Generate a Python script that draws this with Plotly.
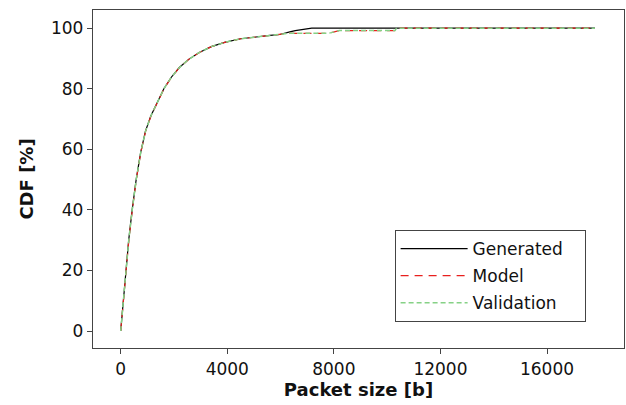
import plotly.graph_objects as go

# Packet size (bits) and cumulative share (%) for each series
gen_x = [0, 50, 100, 150, 200, 300, 430, 580, 750, 930, 1130, 1360, 1620, 1900, 2200, 2550,
         2950, 3400, 3900, 4500, 5200, 5600, 5970, 6150, 6350, 6550, 6800, 7170, 10300, 17800]
gen_y = [0, 5.5, 11, 16, 21, 30, 40, 50, 59, 66, 71, 75.5, 80, 83.8, 87, 89.7,
         92, 93.9, 95.3, 96.5, 97.3, 97.6, 97.9, 98.4, 98.8, 99.2, 99.6, 100, 100, 100]

mod_x = [0, 45, 95, 150, 205, 305, 435, 585, 755, 935, 1135, 1365, 1625, 1905, 2205, 2555,
         2955, 3405, 3905, 4505, 5200, 5800, 6300, 7800, 8200, 10300, 10350, 17800]
mod_y = [0, 4.5, 10.5, 16, 21, 30, 40, 50, 59, 66, 71, 75.5, 80, 83.8, 87, 89.7,
         92, 93.9, 95.3, 96.5, 97.3, 97.8, 98.3, 98.3, 99.2, 99.2, 100, 100]

val_x = [0, 48, 98, 152, 203, 302, 432, 582, 752, 932, 1132, 1362, 1622, 1902, 2202, 2552,
         2952, 3402, 3902, 4502, 5200, 5800, 6300, 7800, 8200, 10300, 10350, 17800]
val_y = [0, 5, 10.8, 16, 21, 30, 40, 50, 59, 66, 71, 75.5, 80, 83.8, 87, 89.7,
         92, 93.9, 95.3, 96.5, 97.3, 97.8, 98.3, 98.3, 99.2, 99.2, 100, 100]

x_ticks = [0, 4000, 8000, 12000, 16000]
x_tick_text = ["0", "4000", "8000", "12000", "16000"]
y_ticks = [0, 20, 40, 60, 80, 100]

FONT = "DejaVu Sans, Verdana, sans-serif"
PAD = "\u00a0\u00a0\u00a0"

fig = go.Figure()
fig.add_trace(go.Scatter(x=gen_x, y=gen_y, mode="lines", name="Generated" + PAD,
                         legendgroup="g", line=dict(color="black", width=1.2)))
fig.add_trace(go.Scatter(x=mod_x, y=mod_y, mode="lines", name="Model",
                         legendgroup="m", line=dict(color="#e8201e", width=1.2, dash="8px,6px")))
fig.add_trace(go.Scatter(x=val_x, y=val_y, mode="lines", name="Validation",
                         legendgroup="v", line=dict(color="#86d186", width=1.5, dash="5px,3px")))

fig.update_layout(
    width=626, height=405,
    margin=dict(l=93, r=2, t=10, b=57),
    paper_bgcolor="white", plot_bgcolor="white",
    font=dict(family=FONT, size=17, color="#111"),
    showlegend=True,
    legend=dict(x=0.568, y=0.349, xanchor="left", yanchor="top",
                bgcolor="white", bordercolor="#444", borderwidth=1,
                font=dict(family=FONT, size=17, color="#111"),
                traceorder="grouped", tracegroupgap=2, itemwidth=67),
    xaxis=dict(range=[-1040, 18890], tickvals=x_ticks, ticktext=x_tick_text,
               ticks="outside", ticklen=5,
               tickcolor="#444", showline=True, linecolor="#444", linewidth=1.3,
               mirror=True, showgrid=False, zeroline=False,
               title=dict(text="<b>Packet size [b]</b>", font=dict(family=FONT, size=18), standoff=5)),
    yaxis=dict(range=[-5.6, 106], tickvals=y_ticks, ticks="outside", ticklen=5,
               tickcolor="#444", showline=True, linecolor="#444", linewidth=1.3,
               mirror=True, showgrid=False, zeroline=False,
               title=dict(text="<b>CDF [%]</b>", font=dict(family=FONT, size=18), standoff=12)),
)

fig.write_html("out.html")
